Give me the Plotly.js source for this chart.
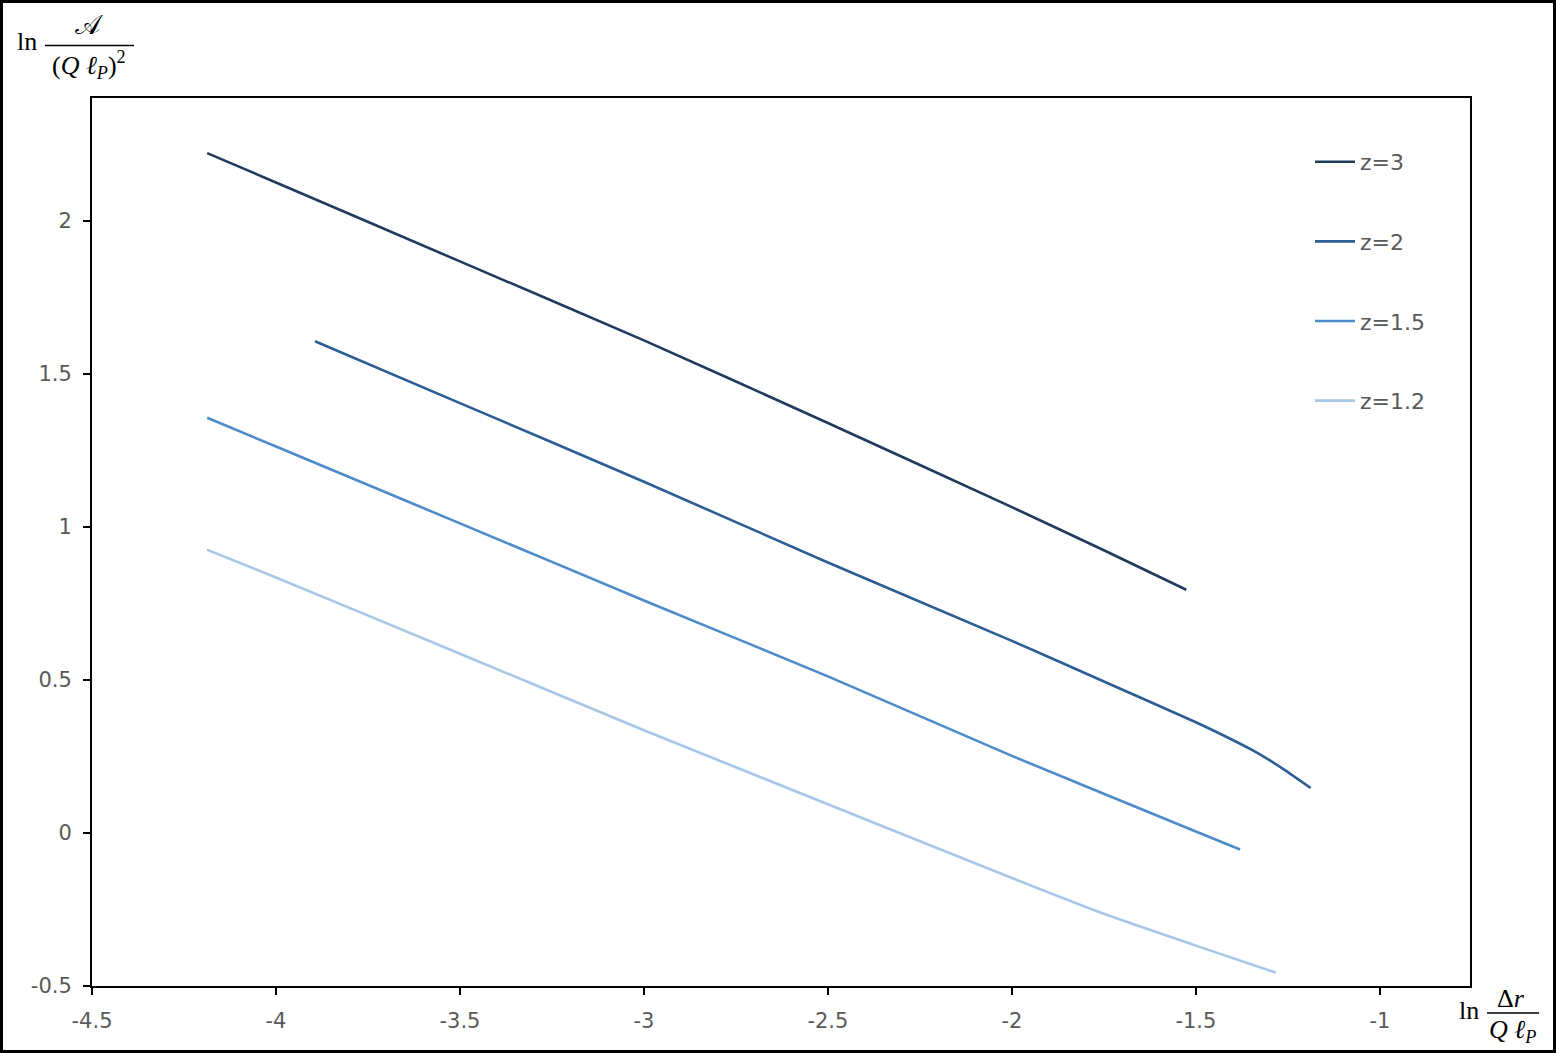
<!DOCTYPE html>
<html>
<head>
<meta charset="utf-8">
<script src="https://cdn.plot.ly/plotly-3.0.1.min.js"></script>
<style>
  body { margin: 0; background: #fff; }
  #wrap { position: relative; width: 1556px; height: 1053px; }
  #frame { position: absolute; left: 0; top: 0; width: 1556px; height: 1053px;
           box-sizing: border-box; border: 3px solid #000; pointer-events: none; }
</style>
</head>
<body>
<div id="wrap">
  <div id="graph"></div>
  <div id="frame"></div>
</div>
<script>
// ln(Δr / Qℓ_P) values and ln(A / (Qℓ_P)^2) values
const seriesNames = ['z=3', 'z=2', 'z=1.5', 'z=1.2'];

const xZ3 = [-4.187, -4.0, -3.5, -3.0, -2.5, -2.0, -1.75, -1.526];
const yZ3 = [2.222, 2.126, 1.868, 1.610, 1.340, 1.065, 0.924, 0.795];

const xZ2 = [-3.894, -3.5, -3.0, -2.5, -2.0, -1.75, -1.5, -1.4, -1.35, -1.3, -1.25, -1.188];
const yZ2 = [1.607, 1.405, 1.148, 0.884, 0.628, 0.495, 0.362, 0.304, 0.273, 0.238, 0.199, 0.147];

const xZ15 = [-4.187, -4.0, -3.5, -3.0, -2.5, -2.0, -1.5, -1.38];
const yZ15 = [1.357, 1.263, 1.012, 0.760, 0.512, 0.252, 0.005, -0.054];

const xZ12 = [-4.188, -4.0, -3.5, -3.0, -2.5, -2.0, -1.75, -1.5, -1.283];
const yZ12 = [0.926, 0.835, 0.586, 0.336, 0.094, -0.147, -0.264, -0.368, -0.456];

const xTickVals = [-4.5, -4, -3.5, -3, -2.5, -2, -1.5, -1];
const xTickText = ['-4.5', '-4', '-3.5', '-3', '-2.5', '-2', '-1.5', '-1'];
const yTickVals = [-0.5, 0, 0.5, 1, 1.5, 2];
const yTickText = ['-0.5', '0', '0.5', '1', '1.5', '2'];

const colors = ['#1f3b5e', '#2c5d94', '#4d8bcb', '#a7c7e7'];

const W = 1556, H = 1053;
const M = { l: 92, r: 86, t: 98, b: 67 };
const PW = W - M.l - M.r, PH = H - M.t - M.b;
// pixel -> paper helpers for the text labels
function px(x) { return (x - M.l) / PW; }
function py(y) { return (H - M.b - y) / PH; }

const xs = [xZ3, xZ2, xZ15, xZ12];
const ys = [yZ3, yZ2, yZ15, yZ12];

const data = seriesNames.map((name, i) => ({
    type: 'scatter',
    mode: 'lines',
    name: name,
    x: xs[i],
    y: ys[i],
    legendgroup: 'g' + i,
    line: { color: colors[i], width: 2.6, shape: 'spline', smoothing: 0.5 },
    hoverinfo: 'skip'
}));

const serif = '"Liberation Serif", "DejaVu Serif", serif';
const mathFont = { family: serif, size: 26, color: '#000' };

const axisBase = {
    ticks: 'outside',
    ticklen: 7,
    tickwidth: 2,
    tickcolor: '#000',
    showline: true,
    linecolor: '#000',
    linewidth: 2,
    mirror: true,
    showgrid: false,
    zeroline: false,
    tickfont: { size: 21, color: '#595959' }
};

const layout = {
    width: W,
    height: H,
    margin: M,
    paper_bgcolor: '#fff',
    plot_bgcolor: '#fff',
    showlegend: true,
    font: { family: '"DejaVu Sans", sans-serif', color: '#595959' },
    xaxis: Object.assign({}, axisBase, {
        range: [-4.5, -0.755],
        tickvals: xTickVals,
        ticktext: xTickText,
        ticklabelstandoff: 8
    }),
    yaxis: Object.assign({}, axisBase, {
        range: [-0.5, 2.402],
        tickvals: yTickVals,
        ticktext: yTickText,
        ticklabelstandoff: 7
    }),
    legend: {
        x: px(1310),
        y: py(141),
        xanchor: 'left',
        yanchor: 'top',
        bgcolor: 'rgba(0,0,0,0)',
        borderwidth: 0,
        font: { size: 22, color: '#595959' },
        tracegroupgap: 48,
        itemwidth: 40
    },
    shapes: [
        // fraction bars of the axis labels
        { type: 'line', xref: 'paper', yref: 'paper',
          x0: px(45), x1: px(134), y0: py(45.5), y1: py(45.5),
          line: { color: '#000', width: 1.5 } },
        { type: 'line', xref: 'paper', yref: 'paper',
          x0: px(1487), x1: px(1539), y0: py(1013), y1: py(1013),
          line: { color: '#000', width: 1.5 } }
    ],
    annotations: [
        { text: 'ln', x: px(15), y: py(42), xanchor: 'left', yanchor: 'middle',
          xref: 'paper', yref: 'paper', showarrow: false, font: mathFont },
        { text: '\u{1D49C}', x: px(89), y: py(25), xanchor: 'center', yanchor: 'middle',
          xref: 'paper', yref: 'paper', showarrow: false, font: { family: serif, size: 27, color: '#000' } },
        { text: '(<i>Q</i> <i>ℓ</i><sub><i>P</i></sub>)<sup>2</sup>', x: px(89), y: py(65),
          xanchor: 'center', yanchor: 'middle',
          xref: 'paper', yref: 'paper', showarrow: false, font: mathFont },
        { text: 'ln', x: px(1457), y: py(1010), xanchor: 'left', yanchor: 'middle',
          xref: 'paper', yref: 'paper', showarrow: false, font: mathFont },
        { text: 'Δ<i>r</i>', x: px(1511), y: py(999), xanchor: 'center', yanchor: 'middle',
          xref: 'paper', yref: 'paper', showarrow: false, font: mathFont },
        { text: '<i>Q</i> <i>ℓ</i><sub><i>P</i></sub>', x: px(1512), y: py(1031),
          xanchor: 'center', yanchor: 'middle',
          xref: 'paper', yref: 'paper', showarrow: false, font: mathFont }
    ]
};

Plotly.newPlot('graph', data, layout, { staticPlot: true, displayModeBar: false });
</script>
</body>
</html>
